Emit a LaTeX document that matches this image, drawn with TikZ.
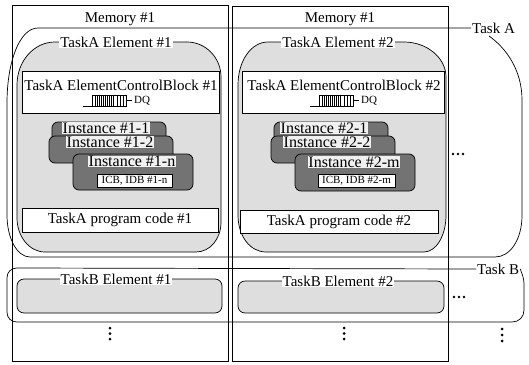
\documentclass[tikz,border=0pt]{standalone}
\usepackage{fontspec}
\setmainfont{Liberation Serif}
\colorlet{elembg}{black!13}
\colorlet{instfill}{black!55}
\newcommand{\fsMain}{\fontsize{15}{17}\selectfont}
\newcommand{\fsInst}{\fontsize{16}{18}\selectfont}
\newcommand{\fsSmall}{\fontsize{11}{12}\selectfont}
\tikzset{
  thin line/.style={line width=0.7pt},
  lbl/.style={font=\fsMain, inner sep=1pt},
  lblw/.style={lbl, fill=white},
  elem/.style={thin line, draw=black, fill=elembg},
  boxw/.style={thin line, draw=black, fill=white, inner sep=0pt},
  instbox/.style={thin line, draw=black, fill=instfill, rounded corners=6pt},
  instlbl/.style={font=\fsInst, fill=black!6, inner sep=0.5pt, text height=10.5pt, text depth=0pt},
  dotmark/.style={fill=black},
  pics/dqueue/.style={code={
    \draw[thin line] (-9,11) -- (0,11);
    \draw[thin line] (0,0) rectangle (34,11);
    \foreach \b in {3,5,...,21} \draw[line width=0.6pt] (\b,0) -- (\b,11);
    \foreach \b in {25,28,31} \draw[line width=0.6pt] (\b,0) -- (\b,11);
    \draw[thin line] (35,5.5) -- (40,5.5);
    \node[font=\fsSmall, inner sep=1pt, anchor=west] (-dq) at (41,5.5) {DQ};
  }}
}
\begin{document}
\begin{tikzpicture}[x=1pt, y=-1pt]
\useasboundingbox (0,0) rectangle (529,364);

% memory areas
\draw[thin line] (12,5) rectangle (228,361);
\draw[thin line] (232,6) rectangle (448,361);
\node[lbl] (mem1) at (120,19) {Memory \#1};
\node[lbl] (mem2) at (340,19) {Memory \#1};

% Task A outline
\node[lbl, anchor=west] (taskA) at (471,28) {Task A};
\draw[thin line] (taskA.west) -- (38,28)
  .. controls (19.5,28) and (7,62) .. (7,103) -- (7,215)
  .. controls (7,238) and (17,257) .. (30,257) -- (495,257)
  .. controls (510,257) and (522,240) .. (522,215) -- (522,100)
  .. controls (522,70) and (506,48) .. (489,36);

% Task B outline
\node[lbl, anchor=west] (taskB) at (476,269) {Task B};
\draw[thin line] (taskB.west) -- (17,268)
  .. controls (11,268) and (7,272) .. (7,278) -- (7,312)
  .. controls (7,318) and (11,322) .. (17,322) -- (512,322)
  .. controls (519,322) and (524,317) .. (524,310) -- (524,284)
  .. controls (524,278) and (522,274) .. (taskB.east);

% TaskA elements
\path[elem] (55,42) -- (187,42) .. controls (206,42) and (221,58) .. (221,77)
  -- (221,222) .. controls (221,239) and (210,252) .. (196,252)
  -- (45,252) .. controls (29,252) and (17,236) .. (17,218)
  -- (17,85) .. controls (17,61) and (34,42) .. (55,42) -- cycle;
\node[lblw] (ea1) at (116,42) {TaskA Element \#1};

\path[elem] (268,42) -- (404,42) .. controls (427,42) and (446,58) .. (446,77)
  -- (446,215) .. controls (446,236) and (436,252) .. (424,252)
  -- (266,252) .. controls (250,252) and (238,236) .. (238,215)
  -- (238,85) .. controls (238,61) and (251,42) .. (268,42) -- cycle;
\node[lblw] (ea2) at (338,42) {TaskA Element \#2};

% element control blocks
\node[boxw, minimum width=197pt, minimum height=42pt] (ecb1box) at (120.5,92) {};
\node[lbl] (ecb1) at (121,85) {TaskA ElementControlBlock \#1};
\pic (q1) at (92,95) {dqueue};

\node[boxw, minimum width=202pt, minimum height=42pt] (ecb2box) at (343,92) {};
\node[lbl] (ecb2) at (344,85) {TaskA ElementControlBlock \#2};
\pic (q2) at (319,95) {dqueue};

% instances of element 1
\draw[instbox] (52,122) rectangle (166,150);
\node[instlbl] (i11) at (106,128) {Instance \#1-1};
\draw[instbox] (49,136) rectangle (173,163);
\node[instlbl] (i12) at (110,142) {Instance \#1-2};
\draw[instbox] (73,154) rectangle (193,190);
\node[instlbl] (i1n) at (132,161.5) {Instance \#1-n};
\node[boxw, font=\fsSmall, minimum width=75pt, minimum height=13pt] (icb1) at (134.5,180.5) {ICB, IDB \#1-n};

% instances of element 2
\draw[instbox] (274,122) rectangle (388,150);
\node[instlbl] (i21) at (324,128) {Instance \#2-1};
\draw[instbox] (271,136) rectangle (395,163);
\node[instlbl] (i22) at (327,142) {Instance \#2-2};
\draw[instbox] (295,154) rectangle (415,191);
\node[instlbl] (i2m) at (354,162) {Instance \#2-m};
\node[boxw, font=\fsSmall, minimum width=77pt, minimum height=13pt] (icb2) at (356.5,181) {ICB, IDB \#2-m};

% program code
\node[boxw, font=\fsMain, minimum width=196pt, minimum height=24pt] (pc1) at (120,220) {TaskA program code \#1};
\node[boxw, font=\fsMain, minimum width=198pt, minimum height=23pt] (pc2) at (339,221.5) {TaskA program code \#2};

% TaskB elements
\draw[elem, rounded corners=7pt] (17,279) rectangle (222,313);
\node[lblw] (eb1) at (116,279) {TaskB Element \#1};
\draw[elem, rounded corners=7pt] (238,281) rectangle (444,313);
\node[lblw] (eb2) at (338,281) {TaskB Element \#2};

% continuation marks
\foreach \x in {453,458,463} \fill[dotmark] (\x,154) circle[radius=1.4pt];
\foreach \x in {454,459,464} \fill[dotmark] (\x,297) circle[radius=1.4pt];
\foreach \y in {328,333.5,339} {
  \fill[dotmark] (110,\y) circle[radius=1.5pt];
  \fill[dotmark] (344,\y) circle[radius=1.5pt];
}
\foreach \y in {329,335,341} \fill[dotmark] (502,\y) circle[radius=1.5pt];
\end{tikzpicture}
\end{document}
